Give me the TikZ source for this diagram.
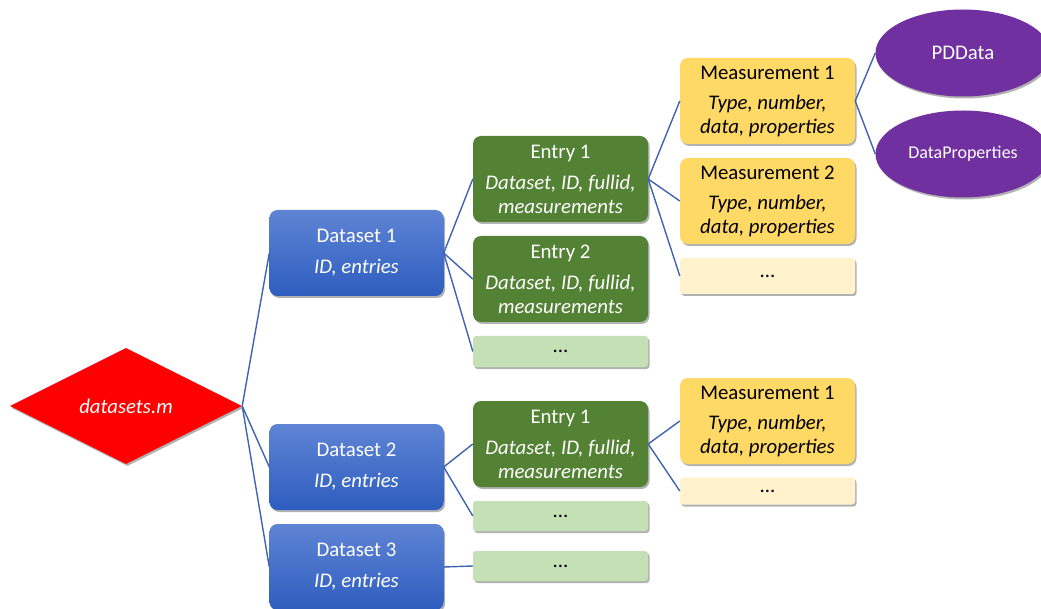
\documentclass[tikz,border=0pt]{standalone}
\usepackage{fontspec}
\setmainfont{Carlito}
\usetikzlibrary{shapes.geometric,shadows}
\definecolor{lineblue}{HTML}{3F64B0}
\definecolor{dstop}{HTML}{5F84D4}
\definecolor{dsbot}{HTML}{2E5DBF}
\definecolor{entgreen}{HTML}{548235}
\definecolor{ltgreen}{HTML}{C5E0B4}
\definecolor{measyel}{HTML}{FFD966}
\definecolor{ltyel}{HTML}{FFF2CC}
\definecolor{purp}{HTML}{7030A0}
\tikzset{
  shad/.style={drop shadow={shadow xshift=1.5pt,shadow yshift=-2pt,opacity=0.3,fill=black}},
  box/.style={rectangle,rounded corners=8pt,minimum width=175pt,inner sep=0pt,align=center,
    font=\fontsize{20.8}{24}\selectfont,shad},
  dsbox/.style={box,minimum width=174pt,minimum height=86pt,top color=dstop,bottom color=dsbot,text=white},
  entbox/.style={box,minimum height=86pt,fill=entgreen,text=white},
  gdots/.style={box,rounded corners=3pt,fill=ltgreen,text=black},
  measbox/.style={box,minimum height=86pt,fill=measyel,text=black},
  ydots/.style={box,rounded corners=3pt,fill=ltyel,text=black},
  oval/.style={ellipse,fill=purp,text=white,minimum width=175pt,minimum height=87pt,inner sep=0pt,shad},
  link/.style={draw=lineblue,line width=1.4pt}
}
\begin{document}
\begin{tikzpicture}[x=1pt,y=-1pt]
\useasboundingbox (0,0) rectangle (1041,609);
\clip (0,0) rectangle (1041,609);
\fill[white] (0,0) rectangle (1041,609);
% root
\node[diamond,aspect=2,fill=red,text=white,inner sep=0pt,minimum width=232pt,minimum height=116pt,
  font=\fontsize{20.8}{24}\selectfont\itshape,shad] (root) at (126,406) {datasets.m};
% datasets
\node[dsbox] (d1) at (356.5,253) {Dataset 1\\[7pt]\textit{ID, entries}};
\node[dsbox] (d2) at (356.5,467) {Dataset 2\\[7pt]\textit{ID, entries}};
\node[dsbox] (d3) at (356.5,567) {Dataset 3\\[7pt]\textit{ID, entries}};
% entries
\node[entbox] (e1) at (560.5,179) {Entry 1\\[7pt]\textit{Dataset, ID, fullid,}\\\textit{measurements}};
\node[entbox] (e2) at (560.5,279) {Entry 2\\[7pt]\textit{Dataset, ID, fullid,}\\\textit{measurements}};
\node[gdots,minimum height=31pt] (ed1) at (560.5,351.5) {...};
\node[entbox] (e3) at (560.5,444) {Entry 1\\[7pt]\textit{Dataset, ID, fullid,}\\\textit{measurements}};
\node[gdots,minimum height=30pt] (ed2) at (560.5,516) {...};
\node[gdots,minimum height=30pt] (ed3) at (560.5,566) {...};
% measurements
\node[measbox] (m1) at (767.5,101) {Measurement 1\\[6pt]\textit{Type, number,}\\\textit{data, properties}};
\node[measbox] (m2) at (767.5,201) {Measurement 2\\[6pt]\textit{Type, number,}\\\textit{data, properties}};
\node[ydots,minimum height=36pt] (md1) at (767.5,276) {...};
\node[measbox] (m3) at (767.5,421) {Measurement 1\\[6pt]\textit{Type, number,}\\\textit{data, properties}};
\node[ydots,minimum height=27pt] (md2) at (767.5,491) {...};
% ovals
\node[oval,font=\fontsize{20.8}{24}\selectfont] (pd) at (963,53) {PDData};
\node[oval,font=\fontsize{18}{21}\selectfont] (dp) at (963,154) {DataProperties};
% links
\draw[link] (root.east) -- (d1.west);
\draw[link] (root.east) -- (d2.west);
\draw[link] (root.east) -- (d3.west);
\draw[link] (d1.east) -- (e1.west);
\draw[link] (d1.east) -- (e2.west);
\draw[link] (d1.east) -- (ed1.west);
\draw[link] (d2.east) -- (e3.west);
\draw[link] (d2.east) -- (ed2.west);
\draw[link] (d3.east) -- (ed3.west);
\draw[link] (e1.east) -- (m1.west);
\draw[link] (e1.east) -- (m2.west);
\draw[link] (e1.east) -- (md1.west);
\draw[link] (e3.east) -- (m3.west);
\draw[link] (e3.east) -- (md2.west);
\draw[link] (m1.east) -- (pd.west);
\draw[link] (m1.east) -- (dp.west);
\end{tikzpicture}
\end{document}
